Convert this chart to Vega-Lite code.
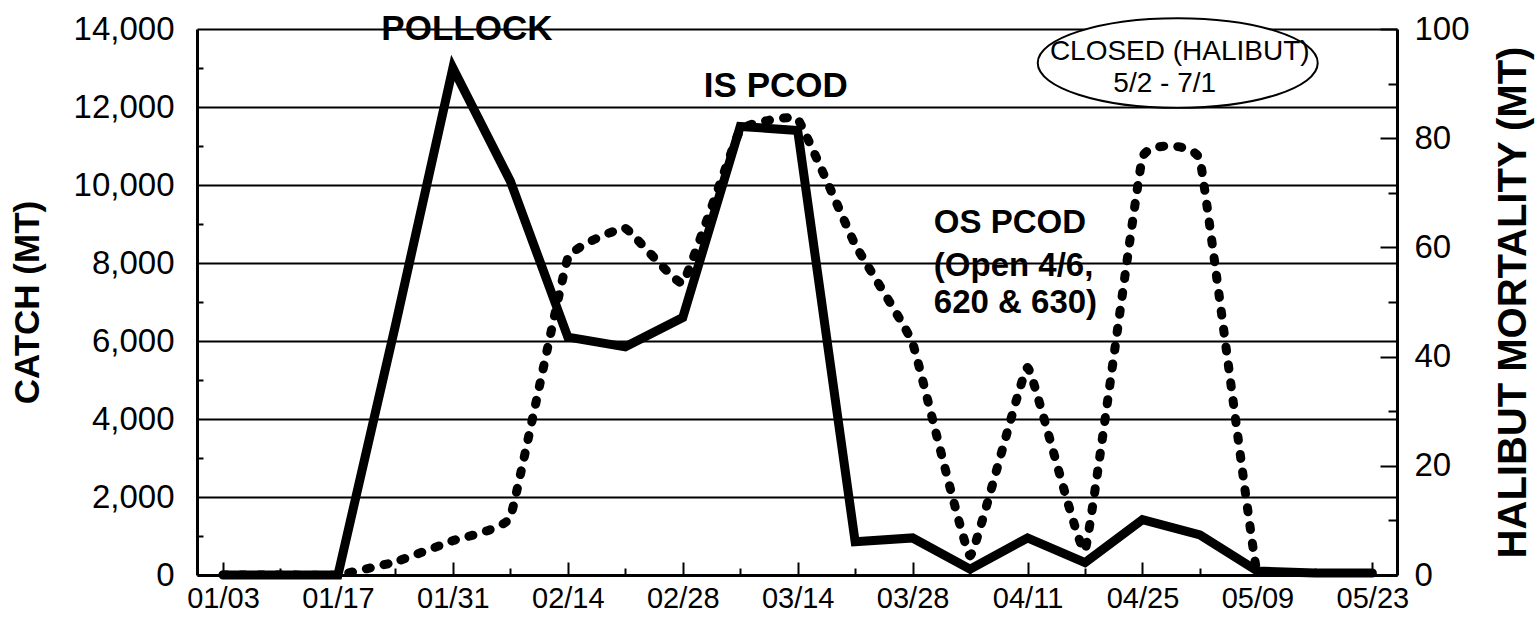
{
  "$schema": "https://vega.github.io/schema/vega-lite/v6.json",
  "width": 1200,
  "height": 546,
  "autosize": {"type": "none"},
  "padding": {"left": 197, "top": 29, "right": 142, "bottom": 43},
  "background": "white",
  "config": {
    "view": {"stroke": null},
    "axis": {"labelFont": "Liberation Sans", "titleFont": "Liberation Sans", "labelColor": "black", "titleColor": "black"},
    "text": {"font": "Liberation Sans"}
  },
  "datasets": {
    "weekly": [
      {"date": "1999-01-03T00:00:00Z", "catch": 0, "mortality": 0},
      {"date": "1999-01-10T00:00:00Z", "catch": 0, "mortality": 0},
      {"date": "1999-01-17T00:00:00Z", "catch": 0, "mortality": 0},
      {"date": "1999-01-24T00:00:00Z", "catch": 6400, "mortality": 2.4},
      {"date": "1999-01-31T00:00:00Z", "catch": 13000, "mortality": 6.3},
      {"date": "1999-02-07T00:00:00Z", "catch": 10100, "mortality": 10.6},
      {"date": "1999-02-14T00:00:00Z", "catch": 6100, "mortality": 58},
      {"date": "1999-02-21T00:00:00Z", "catch": 5850, "mortality": 63.5},
      {"date": "1999-02-28T00:00:00Z", "catch": 6600, "mortality": 53.5},
      {"date": "1999-03-07T00:00:00Z", "catch": 11500, "mortality": 81.5},
      {"date": "1999-03-14T00:00:00Z", "catch": 11400, "mortality": 83.5},
      {"date": "1999-03-21T00:00:00Z", "catch": 850, "mortality": 60.5},
      {"date": "1999-03-28T00:00:00Z", "catch": 950, "mortality": 42.5},
      {"date": "1999-04-04T00:00:00Z", "catch": 150, "mortality": 3.5},
      {"date": "1999-04-11T00:00:00Z", "catch": 950, "mortality": 38},
      {"date": "1999-04-18T00:00:00Z", "catch": 320, "mortality": 4.5},
      {"date": "1999-04-25T00:00:00Z", "catch": 1420, "mortality": 76.5},
      {"date": "1999-05-02T00:00:00Z", "catch": 1030, "mortality": 76},
      {"date": "1999-05-09T00:00:00Z", "catch": 100, "mortality": 0},
      {"date": "1999-05-16T00:00:00Z", "catch": 50, "mortality": 0},
      {"date": "1999-05-23T00:00:00Z", "catch": 50, "mortality": 0}
    ],
    "notes": [
      {"kind": "big", "date": "1999-02-01T17:00:00Z", "catch": 13718, "text": "POLLOCK"},
      {"kind": "big", "date": "1999-03-11T08:00:00Z", "catch": 12256, "text": "IS PCOD"},
      {"kind": "os", "date": "1999-03-30T14:00:00Z", "catch": 8769, "text": "OS PCOD"},
      {"kind": "os", "date": "1999-03-30T14:00:00Z", "catch": 7667, "text": "(Open 4/6,"},
      {"kind": "os", "date": "1999-03-30T14:00:00Z", "catch": 6718, "text": "620 & 630)"},
      {"kind": "closed", "date": "1999-04-29T13:00:00Z", "catch": 13205, "text": "CLOSED (HALIBUT)"},
      {"kind": "closed", "date": "1999-04-27T17:00:00Z", "catch": 12385, "text": "5/2 - 7/1"}
    ],
    "oval": [
      {"date": "1999-04-29T07:00:00Z", "catch": 13128}
    ]
  },
  "resolve": {"scale": {"y": "independent"}, "axis": {"x": "independent", "y": "independent"}},
  "layer": [
    {
      "data": {"name": "weekly"},
      "mark": {"type": "line", "color": "black", "strokeWidth": 9, "strokeJoin": "miter", "strokeCap": "round"},
      "encoding": {
        "x": {
          "field": "date", "type": "temporal",
          "scale": {"type": "utc", "domain": [915048000000, 927676800000]},
          "axis": {
            "orient": "bottom",
            "values": [915321600000, 915926400000, 916531200000, 917136000000, 917740800000, 918345600000, 918950400000, 919555200000, 920160000000, 920764800000, 921369600000, 921974400000, 922579200000, 923184000000, 923788800000, 924393600000, 924998400000, 925603200000, 926208000000, 926812800000, 927417600000],
            "labelExpr": "round((datum.value - 915321600000) / 604800000) % 2 == 0 ? utcFormat(datum.value, '%m/%d') : ''",
            "tickSize": {"condition": {"test": "round((datum.value - 915321600000) / 604800000) % 2 == 0", "value": -13}, "value": -7},
            "tickColor": "black", "tickWidth": 2,
            "domain": true, "domainColor": "black", "domainWidth": 3,
            "labelFontSize": 29, "labelPadding": 22, "labelFlush": false, "labelOverlap": false, "labelBound": false,
            "grid": false, "title": null
          }
        },
        "y": {
          "field": "catch", "type": "quantitative",
          "scale": {"domain": [0, 14000], "nice": false, "zero": true},
          "axis": {
            "orient": "left",
            "values": [0, 1000, 2000, 3000, 4000, 5000, 6000, 7000, 8000, 9000, 10000, 11000, 12000, 13000, 14000],
            "labelExpr": "datum.value % 2000 == 0 ? format(datum.value, ',') : ''",
            "tickSize": {"condition": {"test": "datum.value % 2000 == 0", "value": 0}, "value": -6},
            "tickColor": "black", "tickWidth": 2,
            "grid": true, "gridColor": "black", "gridWidth": 2,
            "gridOpacity": {"condition": {"test": "datum.value % 2000 == 0", "value": 1}, "value": 0},
            "domainColor": "black", "domainWidth": 3,
            "labelFontSize": 33, "labelPadding": 23, "labelOverlap": false, "labelBound": false, "labelFlush": false,
            "title": "CATCH (MT)", "titleFontSize": 35, "titleFontWeight": "bold", "titlePadding": 28
          }
        }
      }
    },
    {
      "data": {"name": "weekly"},
      "mark": {"type": "line", "color": "black", "strokeWidth": 9, "strokeDash": [4, 14], "strokeCap": "round", "interpolate": "cardinal", "tension": 0.75, "clip": true},
      "encoding": {
        "x": {"field": "date", "type": "temporal", "scale": {"type": "utc", "domain": [915048000000, 927676800000]}, "axis": null},
        "y": {
          "field": "mortality", "type": "quantitative",
          "scale": {"domain": [0, 100], "nice": false, "zero": true},
          "axis": {
            "orient": "right",
            "values": [0, 10, 20, 30, 40, 50, 60, 70, 80, 90, 100],
            "labelExpr": "datum.value % 20 == 0 ? format(datum.value, 'd') : ''",
            "tickSize": {"condition": {"test": "datum.value % 20 == 0", "value": -17}, "value": -9},
            "tickColor": "black", "tickWidth": 2,
            "grid": false,
            "domainColor": "black", "domainWidth": 3,
            "labelFontSize": 33, "labelPadding": 34, "labelOverlap": false, "labelBound": false, "labelFlush": false,
            "title": "HALIBUT MORTALITY (MT)", "titleFontSize": 40, "titleFontWeight": "bold",
            "titleAngle": 270, "titleBaseline": "top", "titlePadding": 24
          }
        }
      }
    },
    {
      "data": {"name": "oval"},
      "mark": {"type": "point", "shape": "M-1,0A1,0.32,0,1,1,1,0A1,0.32,0,1,1,-1,0Z", "size": 78400, "filled": false, "fill": "white", "fillOpacity": 1, "stroke": "black", "strokeWidth": 2, "opacity": 1},
      "encoding": {
        "x": {"field": "date", "type": "temporal", "scale": {"type": "utc", "domain": [915048000000, 927676800000]}, "axis": null},
        "y": {"field": "catch", "type": "quantitative", "scale": {"domain": [0, 14000], "nice": false}, "axis": null}
      }
    },
    {
      "data": {"name": "notes"},
      "transform": [{"filter": "datum.kind == 'big'"}],
      "mark": {"type": "text", "fontSize": 35, "fontWeight": "bold", "align": "center", "baseline": "alphabetic", "color": "black"},
      "encoding": {
        "x": {"field": "date", "type": "temporal", "scale": {"type": "utc", "domain": [915048000000, 927676800000]}, "axis": null},
        "y": {"field": "catch", "type": "quantitative", "scale": {"domain": [0, 14000], "nice": false}, "axis": null},
        "text": {"field": "text", "type": "nominal"}
      }
    },
    {
      "data": {"name": "notes"},
      "transform": [{"filter": "datum.kind == 'os'"}],
      "mark": {"type": "text", "fontSize": 33, "fontWeight": "bold", "align": "left", "baseline": "alphabetic", "color": "black"},
      "encoding": {
        "x": {"field": "date", "type": "temporal", "scale": {"type": "utc", "domain": [915048000000, 927676800000]}, "axis": null},
        "y": {"field": "catch", "type": "quantitative", "scale": {"domain": [0, 14000], "nice": false}, "axis": null},
        "text": {"field": "text", "type": "nominal"}
      }
    },
    {
      "data": {"name": "notes"},
      "transform": [{"filter": "datum.kind == 'closed'"}],
      "mark": {"type": "text", "fontSize": 28, "align": "center", "baseline": "alphabetic", "color": "black"},
      "encoding": {
        "x": {"field": "date", "type": "temporal", "scale": {"type": "utc", "domain": [915048000000, 927676800000]}, "axis": null},
        "y": {"field": "catch", "type": "quantitative", "scale": {"domain": [0, 14000], "nice": false}, "axis": null},
        "text": {"field": "text", "type": "nominal"}
      }
    }
  ]
}
